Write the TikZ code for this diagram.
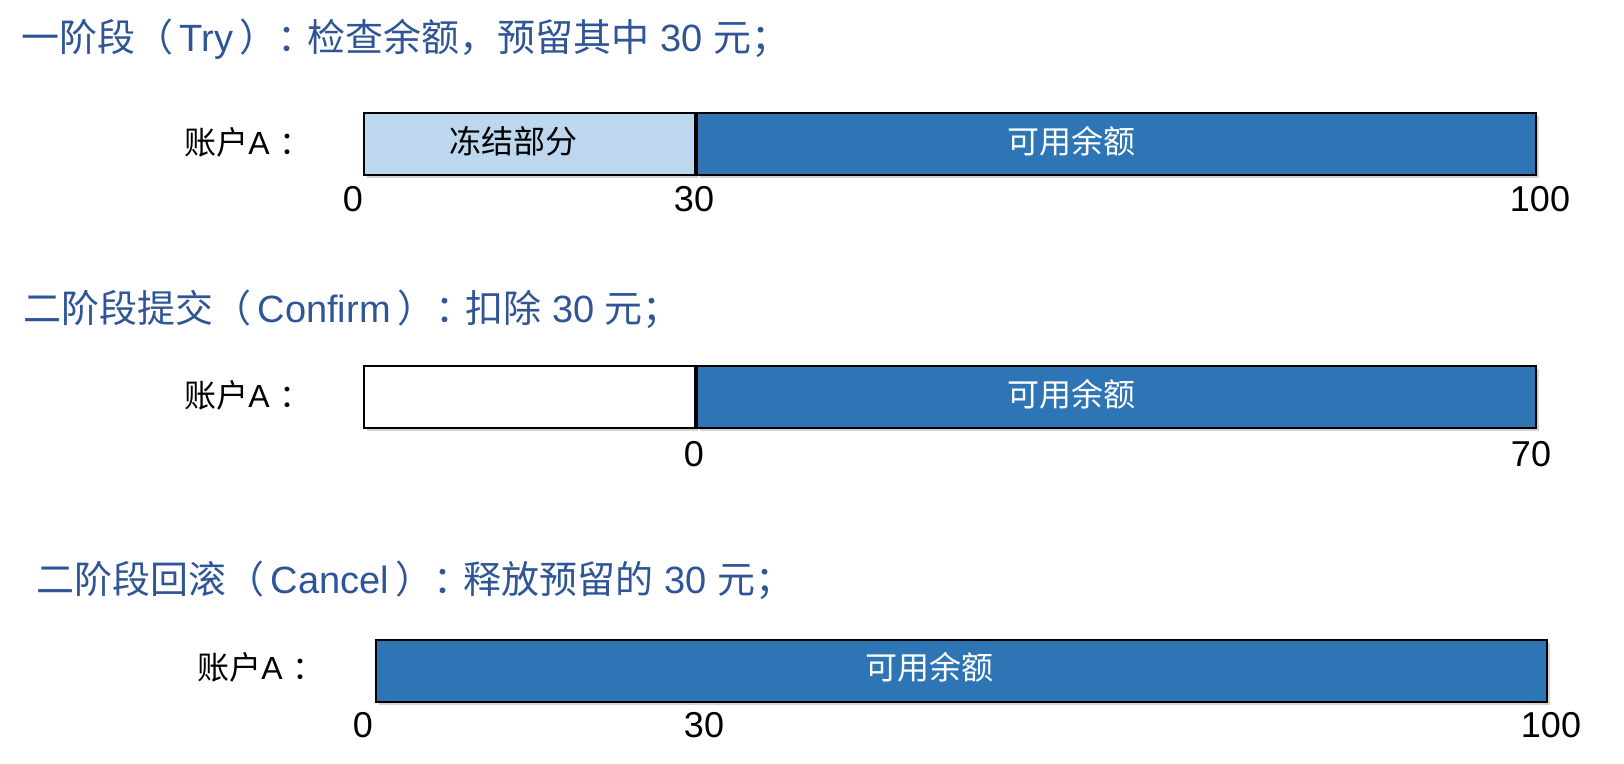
\documentclass[tikz,border=0pt]{standalone}
\usepackage{fontspec}
\setmainfont{Liberation Sans}
\newfontfamily\cjk{Noto Sans CJK SC}
\usetikzlibrary{positioning, shadows}
\definecolor{titleblue}{RGB}{47,85,151}
\definecolor{barblue}{RGB}{46,117,182}
\definecolor{frozenblue}{RGB}{189,215,238}
\tikzset{
  title/.style={anchor=west, inner sep=0pt, text=titleblue, font=\fontsize{19}{19}\selectfont},
  acct/.style={anchor=west, inner sep=0pt, font=\fontsize{16}{16}\selectfont},
  bar/.style={draw=black, line width=1pt, minimum height=31pt, inner sep=0pt,
    drop shadow={shadow xshift=1.5pt, shadow yshift=-1.5pt, opacity=0.35}},
  frozen/.style={bar, fill=frozenblue},
  free/.style={bar, fill=white},
  avail/.style={bar, fill=barblue},
  bartext/.style={inner sep=0pt, font=\fontsize{16}{16}\selectfont},
  num/.style={inner sep=0pt, font=\fontsize{18}{18}\selectfont}
}

\begin{document}
\begin{tikzpicture}[x=0.5pt, y=-0.5pt]
\useasboundingbox (0,0) rectangle (1624,764);
%% try
  \node[title] (h1) at (21,39) {{\cjk 一阶段（}\,Try\,{\cjk ）：}\hspace{-0.2em}{\cjk 检查余额，预留其中} 30 {\cjk 元；}};
  \node[acct] (l1) at (184,142) {{\cjk 账户}A\hspace{0.3em}{\cjk ：}};
  \node[frozen, minimum width=165.5pt, anchor=north west] (frz1) at (363,112) {};
  \node[avail, minimum width=419.5pt, right=0pt of frz1] (avl1) {};
  \node[bartext] (tf1) at (513,141) {\cjk 冻结部分};
  \node[bartext, text=white] (ta1) at (1071,141) {\cjk 可用余额};
  \node[num] (n10) at (353,199) {0};
  \node[num] (n11) at (694,199) {30};
  \node[num] (n12) at (1540,199) {100};
%% confirm
  \node[title] (h2) at (23,309) {{\cjk 二阶段提交（}\,Confirm\,{\cjk ）：}\hspace{-0.2em}{\cjk 扣除} 30 {\cjk 元；}};
  \node[acct] (l2) at (184,395) {{\cjk 账户}A\hspace{0.3em}{\cjk ：}};
  \node[free, minimum width=165.5pt, anchor=north west] (frz2) at (363,365) {};
  \node[avail, minimum width=419.5pt, right=0pt of frz2] (avl2) {};
  \node[bartext, text=white] (ta2) at (1071,394) {\cjk 可用余额};
  \node[num] (n20) at (694,454) {0};
  \node[num] (n21) at (1531,454) {70};
%% cancel
  \node[title] (h3) at (36,580) {{\cjk 二阶段回滚（}\,Cancel\,{\cjk ）：}\hspace{-0.2em}{\cjk 释放预留的} 30 {\cjk 元；}};
  \node[acct] (l3) at (197,667) {{\cjk 账户}A\hspace{0.3em}{\cjk ：}};
  \node[avail, minimum width=585.5pt, anchor=north west] (avl3) at (375,639) {};
  \node[bartext, text=white] (ta3) at (929,667) {\cjk 可用余额};
  \node[num] (n30) at (363,725) {0};
  \node[num] (n31) at (704,725) {30};
  \node[num] (n32) at (1551,725) {100};
\end{tikzpicture}
\end{document}
